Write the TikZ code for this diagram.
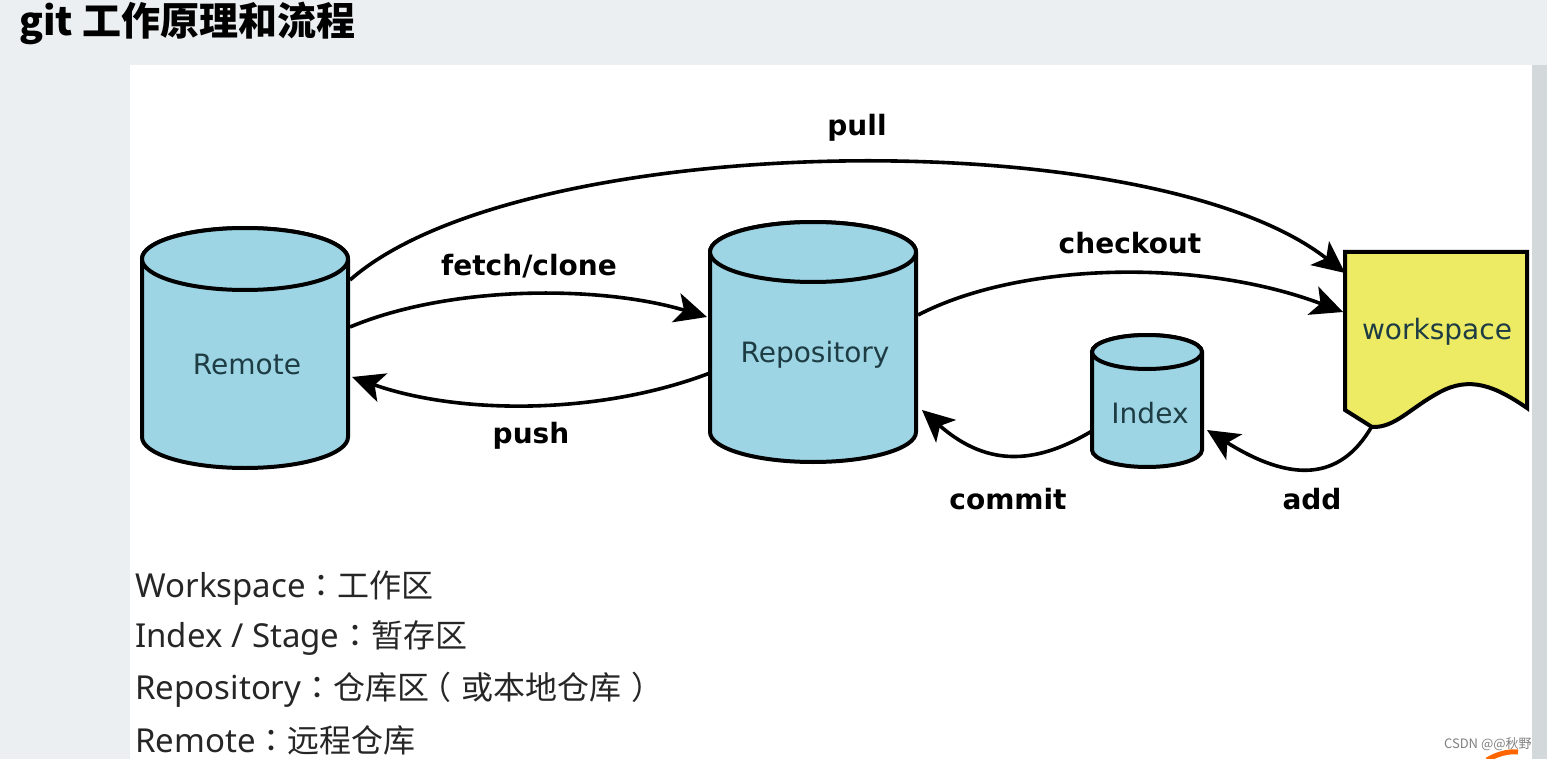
\documentclass[tikz,border=0pt]{standalone}
\usepackage{fontspec}
\setmainfont{DejaVu Sans}
\newfontfamily\cjk{Noto Sans CJK SC}
\newfontfamily\cjkc{Noto Sans CJK TC}
\newfontfamily\lat{Noto Sans}
\usepackage{tikz}
\usetikzlibrary{arrows.meta,positioning}

\definecolor{cylblue}{HTML}{9DD5E5}
\definecolor{docyellow}{HTML}{EDEA63}
\definecolor{inktext}{HTML}{1E3C44}
\definecolor{pagegray}{HTML}{ECEFF1}
\definecolor{edgegray}{HTML}{D3D8DB}

% x,y in pixels of the original, y downwards
\tikzset{
  cyl/.style={fill=cylblue, draw=black, line width=2pt},
  flow/.style={draw=black, line width=1.8pt, -{Stealth[length=16pt,width=15pt,inset=4pt]}},
  lbl/.style={font=\bfseries\fontsize{14}{16}\selectfont},
  tag/.style={text=inktext, font=\fontsize{14}{16}\selectfont},
  legend/.style={anchor=west, inner sep=0pt, text=black!85}
}

% drum: cx, top y, bottom y, x radius, y radius
\newcommand\drum[5]{%
  \filldraw[cyl] (#1-#4,#2) -- (#1-#4,#3)
    arc[start angle=180, end angle=0, x radius=#4, y radius=#5]
    -- (#1+#4,#2)
    arc[start angle=0, end angle=-180, x radius=#4, y radius=#5] -- cycle;
  \draw[cyl] (#1,#2) ellipse [x radius=#4, y radius=#5];
}
% legend parts
\newcommand\lpart[1]{{\lat\fontsize{16.5}{18}\selectfont #1}}
\newcommand\cpart[1]{{\cjk\fontsize{16}{18}\selectfont #1}}
\newcommand\colonpart{{\cjkc\fontsize{16}{18}\selectfont ：}}

\begin{document}
\begin{tikzpicture}[x=0.5pt, y=-0.5pt]
  \useasboundingbox (0,0) rectangle (1547,759);
  \fill[pagegray] (0,0) rectangle (1547,759);
  \fill[edgegray] (1532,65) rectangle (1547,759);
  \fill[white] (130,65) rectangle (1532,759);

  \node[anchor=west, inner sep=0pt, font=\cjk\bfseries\fontsize{19.5}{22}\selectfont] (title) at (19,23) {git 工作原理和流程};

  % stores
  \drum{245}{259}{437}{103}{31}
  \drum{813}{252}{432}{103}{30}
  \drum{1147}{352}{450}{55}{17}
  \filldraw[fill=docyellow, draw=black, line width=2pt]
    (1345,252) -- (1527,252) -- (1527,408)
    .. controls (1495,386) and (1470,376) .. (1440,392)
    .. controls (1410,408) and (1395,428) .. (1372,427)
    -- (1345,410) -- cycle;

  \node[tag] (remote) at (247,364) {Remote};
  \node[tag] (repo) at (815,355) {Repository};
  \node[tag] (index) at (1150,413) {Index};
  \node[tag] (work) at (1437,332) {workspace};

  % connector ends
  \coordinate (remote-a) at (350,280);
  \coordinate (remote-b) at (350,327);
  \coordinate (remote-c) at (352,377);
  \coordinate (repo-w1) at (707,317);
  \coordinate (repo-w2) at (710,373);
  \coordinate (repo-e1) at (918,315);
  \coordinate (repo-e2) at (922,410);
  \coordinate (index-w) at (1092,431);
  \coordinate (index-e) at (1207,430);
  \coordinate (work-w1) at (1345,273);
  \coordinate (work-w2) at (1343,312);
  \coordinate (work-s) at (1372,426);

  \draw[flow] (remote-a) .. controls (520,130) and (1150,120) .. (work-w1);
  \draw[flow] (remote-b) .. controls (450,285) and (600,285) .. (repo-w1);
  \draw[flow] (repo-w2) .. controls (600,415) and (460,415) .. (remote-c);
  \draw[flow] (repo-e1) .. controls (1020,262) and (1200,258) .. (work-w2);
  \draw[flow] (index-w) .. controls (1040,462) and (990,470) .. (repo-e2);
  \draw[flow] (work-s) .. controls (1340,482) and (1290,482) .. (index-e);

  \node[lbl] (pull) at (857,128) {pull};
  \node[lbl] (fetch) at (529,266) {fetch/clone};
  \node[lbl] (push) at (531,436) {push};
  \node[lbl] (checkout) at (1130,243) {checkout};
  \node[lbl] (commit) at (1008,499) {commit};
  \node[lbl] (add) at (1312,499) {add};

  % legend
  \node[legend] (l-work) at (135,588) {\lpart{Workspace}\colonpart\cpart{工作区}};
  \node[legend] (l-index) at (135,638) {\lpart{Index / Stage}\colonpart\cpart{暂存区}};
  \node[legend] (l-repo) at (135,690) {\lpart{Repository}\colonpart\cpart{仓库区\kern-.3em（\kern.3em 或本地仓库\kern.3em）}};
  \node[legend] (l-remote) at (135,740) {\lpart{Remote}\colonpart\cpart{远程仓库}};

  \node[anchor=east, inner sep=0pt, text=gray, font=\cjk\fontsize{6.5}{7}\selectfont] (mark) at (1532,744) {CSDN @@秋野};
  \draw[orange!80!red, line width=2.5pt] (1487,760) .. controls (1497,754) and (1508,751) .. (1518,752);
\end{tikzpicture}
\end{document}
